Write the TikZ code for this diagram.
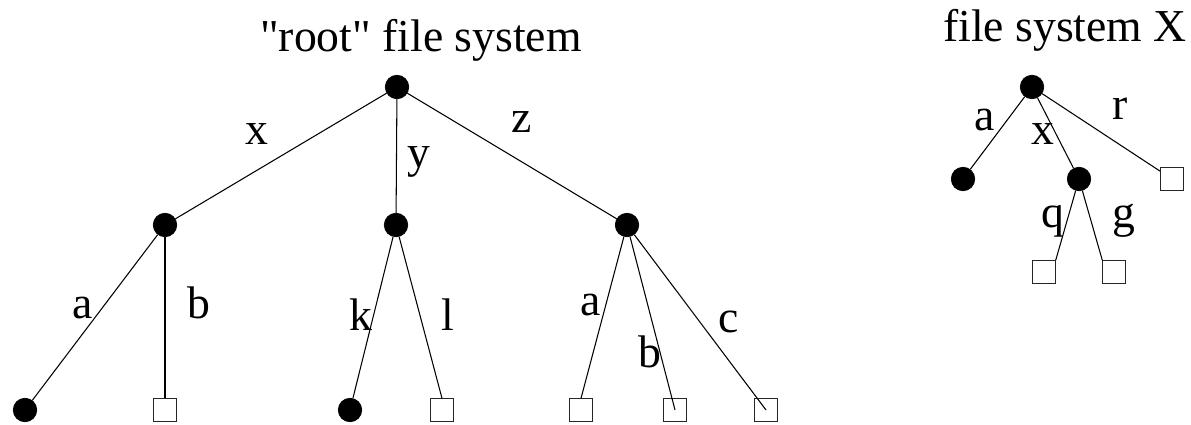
\documentclass[tikz,border=0pt]{standalone}
\usepackage{fontspec}
\setmainfont{Liberation Serif}
\usetikzlibrary{positioning}
\tikzset{
  node-f/.style={draw,fill=black,circle,minimum size=4.7mm,inner sep=0pt},
  node-l/.style={draw,black!85,fill=white,rectangle,minimum size=4.5mm,inner sep=0pt,line width=0.5pt},
  edge/.style={line width=0.6pt,black},
  lbl/.style={anchor=base,inner sep=0pt,font=\fontsize{26}{30}\selectfont},
  title/.style={anchor=base,inner sep=0pt,font=\fontsize{26}{30}\selectfont},
}
\begin{document}
\begin{tikzpicture}[x=0.2mm,y=-0.2mm]

  \useasboundingbox (0,0) rectangle (1191,425);

  \node[title] (troot) at (421, 52) {\textquotedbl root\textquotedbl{} file system};
  \node[title] (tX)    at (1065, 42) {file system X};

  % ROOT TREE: top level
  \node[node-f] (r)    at (397, 87)  {};
  \node[node-f] (rx)   at (165, 225) {};
  \node[node-f] (ry)   at (396, 225) {};
  \node[node-f] (rz)   at (627, 225) {};
  \draw[edge] (r) -- (rx);
  \draw[edge] (r) -- (ry);
  \draw[edge] (r) -- (rz);
  \node[lbl] (lx) at (257, 145) {x};
  \node[lbl] (ly) at (419, 167) {y};
  \node[lbl] (lz) at (522, 133) {z};

  % ROOT TREE: leaves
  \node[node-f] (rxa)  at (25, 410)  {};
  \node[node-l] (rxb)  at (165, 410) {};
  \node[node-f] (ryk)  at (350, 410) {};
  \node[node-l] (ryl)  at (442, 410) {};
  \node[node-l] (rza)  at (581, 410) {};
  \node[node-l] (rzb)  at (675, 410) {};
  \node[node-l] (rzc)  at (766, 410) {};
  \draw[edge] (rx) -- (rxa);
  \draw[edge] (rx) -- (rxb);
  \draw[edge] (ry) -- (ryk);
  \draw[edge] (ry) -- (ryl.north);
  \draw[edge] (rz) -- (rza.north);
  \draw[edge] (rz) -- (rzb.center);
  \draw[edge] (rz) -- (rzc.center);
  \node[lbl] (la1) at (83, 318)  {a};
  \node[lbl] (lb1) at (199, 318) {b};
  \node[lbl] (lk)  at (361, 330) {k};
  \node[lbl] (ll)  at (448, 330) {l};
  \node[lbl] (la2) at (591, 315) {a};
  \node[lbl] (lb2) at (650, 367) {b};
  \node[lbl] (lc)  at (729, 332) {c};

  % FILE SYSTEM X
  \node[node-f] (X)    at (1032, 87)  {};
  \node[node-f] (Xa)   at (963, 179)  {};
  \node[node-f] (Xx)   at (1079, 179) {};
  \node[node-l] (Xr)   at (1172, 179) {};
  \node[node-l] (Xxq)  at (1044, 272) {};
  \node[node-l] (Xxg)  at (1114, 272) {};
  \draw[edge] (X) -- (Xa);
  \draw[edge] (X) -- (Xx);
  \draw[edge] (X) -- (Xr);
  \draw[edge] (Xx) -- (Xxq.north east);
  \draw[edge] (Xx) -- (Xxg.north west);
  \node[lbl] (Xla) at (985, 130)  {a};
  \node[lbl] (Xlx) at (1043, 145) {x};
  \node[lbl] (Xlr) at (1120, 120) {r};
  \node[lbl] (Xlq) at (1053, 227) {q};
  \node[lbl] (Xlg) at (1124, 227) {g};

\end{tikzpicture}
\end{document}
